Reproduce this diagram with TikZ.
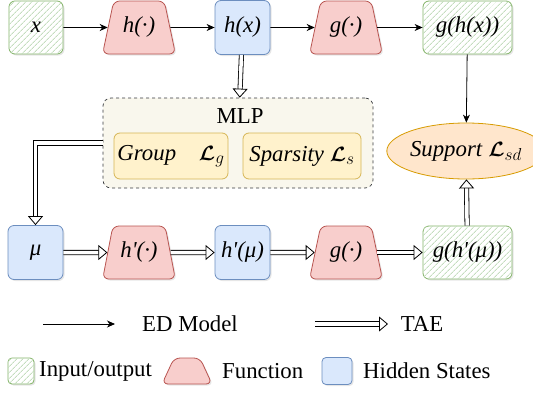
\documentclass[tikz,border=0pt]{standalone}
\usepackage{fontspec}
\setmainfont{Liberation Serif}
\usepackage{amsmath,bm}
\usetikzlibrary{positioning, arrows.meta, shapes.geometric, patterns.meta, shadows}
\definecolor{ioFill}{HTML}{d5e8d4}
\definecolor{ioLine}{HTML}{82b366}
\definecolor{fnFill}{HTML}{f8cecc}
\definecolor{fnLine}{HTML}{b85450}
\definecolor{hsFill}{HTML}{dae8fc}
\definecolor{hsLine}{HTML}{6c8ebf}
\definecolor{supFill}{HTML}{ffe6cc}
\definecolor{supLine}{HTML}{d79b00}
\definecolor{lossFill}{HTML}{fff2cc}
\definecolor{lossLine}{HTML}{d6b656}
\definecolor{mlpFill}{HTML}{f9f7ed}
\definecolor{mlpLine}{HTML}{36393d}
\newcommand{\lossL}[1]{$\bm{\mathcal{L}}_{#1}$}
\newcommand{\pr}{\textquotesingle}

\begin{document}
\begin{tikzpicture}[x=1pt,y=-1pt,inner sep=0pt,font=\fontsize{22.8}{26}\selectfont,base/.style={rounded corners=6pt, line width=0.8pt, drop shadow={opacity=0.2, shadow xshift=1.5pt, shadow yshift=-1.5pt}},io/.style={base, draw=ioLine, fill=white, postaction={pattern={Lines[angle=45, distance=4pt, line width=0.9pt]}, pattern color=ioFill!80!ioLine}, minimum width=54pt, minimum height=53pt},fn/.style={base, trapezium, trapezium angle=72, trapezium stretches=true, fill=fnFill, draw=fnLine, minimum width=73pt, minimum height=53pt, inner sep=2pt},hs/.style={base, fill=hsFill, draw=hsLine, minimum width=55pt, minimum height=54pt},loss/.style={rounded corners=6pt, line width=0.8pt, fill=lossFill, draw=lossLine, minimum height=46pt},arr/.style={-{Stealth[length=8pt, width=7pt, inset=2.5pt]}, line width=0.8pt},tae/.style={double=white, double distance=3.5pt, line width=0.8pt, -{Triangle[open, length=9pt, width=15pt, line width=0.8pt]}}]
\useasboundingbox (0,0) rectangle (533,394);
% ED model row
\node[io] (x) at (36,27.5) {\textit{x}};
\node[fn] (h) at (139,27.5) {\textit{h(·)}};
\node[hs] (hx) at (242.5,27.5) {\textit{h(x)}};
\node[fn] (g) at (346,27.5) {\textit{g(·)}};
\node[io, minimum width=89pt] (ghx) at (467.5,27.5) {\textit{g(h(x))}};
\draw[arr] (x)--(h); \draw[arr] (h)--(hx); \draw[arr] (hx)--(g); \draw[arr] (g)--(ghx);
% MLP block
\node[draw=mlpLine, fill=mlpFill, dashed, rounded corners=8pt, line width=0.7pt, minimum width=270pt, minimum height=90pt] (mlp) at (238,143) {};
\node (mlpt) at (240,116) {MLP};
\node[loss, minimum width=114pt] (grp) at (171,156) {\textit{Group}\quad\lossL{g}};
\node[loss, minimum width=118pt] (spa) at (302,156) {\textit{Sparsity} \lossL{s}};
\node[ellipse, fill=supFill, draw=supLine, line width=0.8pt, minimum width=132pt, minimum height=56pt] (sup) at (466,151) {\textit{Support} \lossL{sd}};
\draw[arr] (ghx)--(sup);
% TAE row
\node[hs] (mu) at (35.5,252.5) {\textit{μ}};
\node[fn] (hp) at (139,252.5) {\textit{h\pr(·)}};
\node[hs] (hpmu) at (242.5,252.5) {\textit{h\pr(μ)}};
\node[fn] (gp) at (346,252.5) {\textit{g(·)}};
\node[io, minimum width=89pt] (ghmu) at (467.5,252.5) {\textit{g(h\pr(μ))}};
\draw[tae] (hx)--(mlp); \draw[tae] (mlp.west) -| (mu.north);
\draw[tae] (mu)--(hp); \draw[tae] (hp)--(hpmu); \draw[tae] (hpmu)--(gp); \draw[tae] (gp)--(ghmu);
\draw[tae] (ghmu)--(sup);
% legend
\coordinate (eda) at (43,324); \coordinate (edb) at (115,324);
\draw[arr] (eda)--(edb); \node (edt) at (190,324) {ED Model};
\coordinate (taea) at (315,324); \coordinate (taeb) at (388,324);
\draw[tae] (taea)--(taeb); \node (taet) at (422,324) {TAE};
\node[io, rounded corners=4pt, minimum width=26pt, minimum height=26pt] (lio) at (21,371) {};
\node[anchor=west] (lioT) at (39,371) {Input/output};
\node[fn, trapezium angle=65, minimum width=50pt, minimum height=26pt] (lfn) at (187,371) {};
\node[anchor=west] (lfnT) at (222,371) {Function};
\node[hs, rounded corners=4pt, minimum width=30pt, minimum height=27pt] (lhs) at (337,371) {};
\node[anchor=west] (lhsT) at (363,371) {Hidden States};
\end{tikzpicture}
\end{document}
